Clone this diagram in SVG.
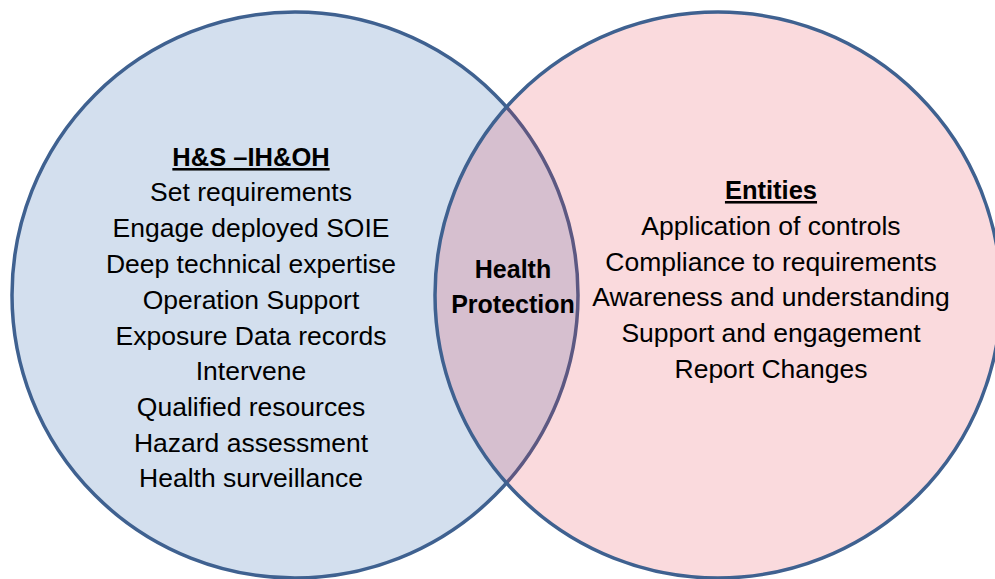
<svg xmlns="http://www.w3.org/2000/svg" width="995" height="579" viewBox="0 0 995 579">
<style>
.c{stroke:#3f6190;stroke-width:3.5}
.t{font-family:"Liberation Sans",Arial,sans-serif;font-size:26.5px;fill:#000;text-anchor:middle}
.h{font-weight:bold;font-size:25.5px;text-decoration:underline}
.b{font-weight:bold;font-size:25px}
</style>
<rect width="995" height="579" fill="#fff"/>
<g id="left-circle">
<circle class="c" cx="295" cy="295" r="283" fill="#d3dfee"/>
</g>
<g id="right-circle">
<circle cx="718" cy="295" r="283" fill="#e43243" fill-opacity="0.18" stroke="#3f6190" stroke-width="3.5"/>
</g>
<g id="left-text" class="t">
<text class="t h" x="251" y="166">H&amp;S –IH&amp;OH</text>
<text class="t" x="251" y="201">Set requirements</text>
<text class="t" x="251" y="237">Engage deployed SOIE</text>
<text class="t" x="251" y="273">Deep technical expertise</text>
<text class="t" x="251" y="309">Operation Support</text>
<text class="t" x="251" y="345">Exposure Data records</text>
<text class="t" x="251" y="380">Intervene</text>
<text class="t" x="251" y="416">Qualified resources</text>
<text class="t" x="251" y="452">Hazard assessment</text>
<text class="t" x="251" y="487">Health surveillance</text>
</g>
<g id="right-text">
<text class="t h" x="771" y="199">Entities</text>
<text class="t" x="771" y="235">Application of controls</text>
<text class="t" x="771" y="271">Compliance to requirements</text>
<text class="t" x="771" y="306">Awareness and understanding</text>
<text class="t" x="771" y="342">Support and engagement</text>
<text class="t" x="771" y="378">Report Changes</text>
</g>
<g id="overlap-text">
<text class="t b" x="513" y="278">Health</text>
<text class="t b" x="513" y="313">Protection</text>
</g>
</svg>
